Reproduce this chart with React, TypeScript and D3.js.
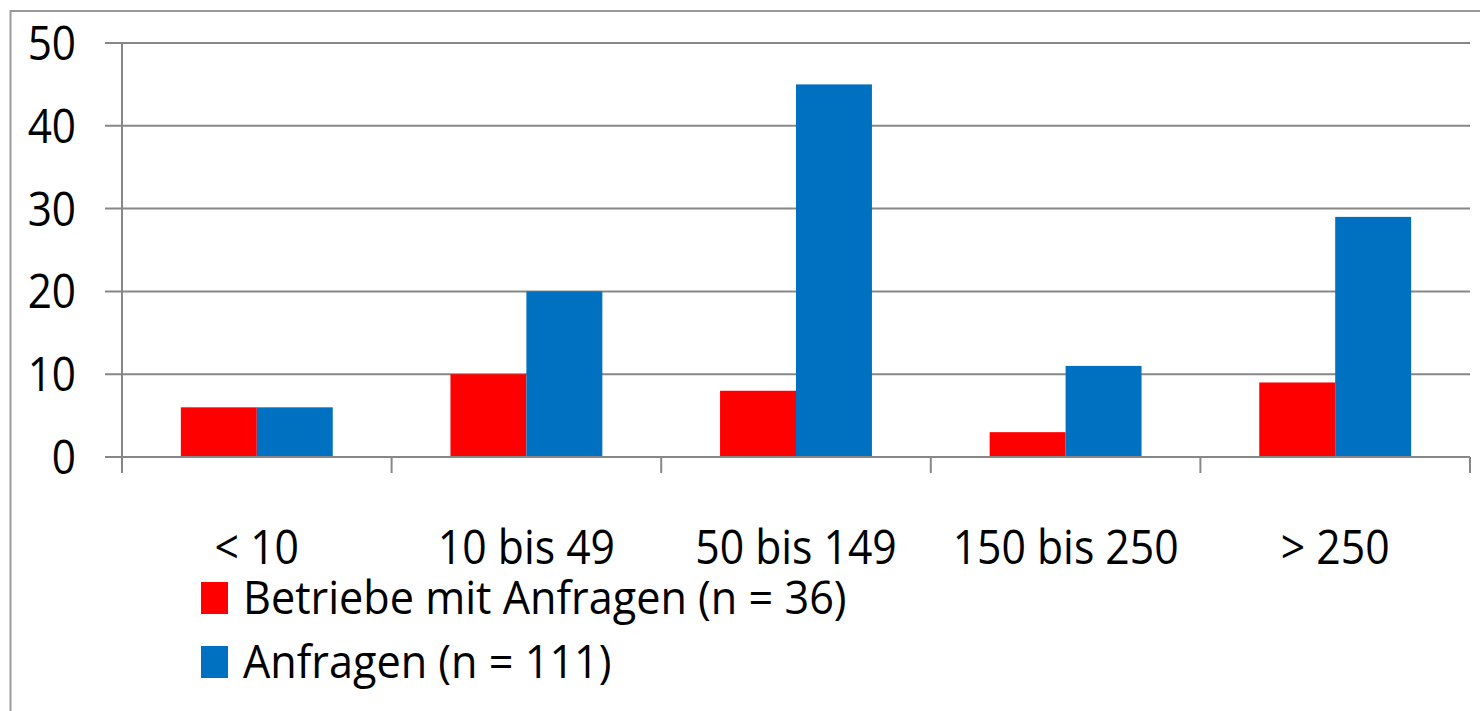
import React from "react";
import * as d3 from "d3";

const categories = ["< 10", "10 bis 49", "50 bis 149", "150 bis 250", "> 250"];
const seriesNames = ["Betriebe mit Anfragen (n = 36)", "Anfragen (n = 111)"];
const betriebe = [6, 10, 8, 3, 9];
const anfragen = [6, 20, 45, 11, 29];
const yTicks = [0, 10, 20, 30, 40, 50];
const colors = ["#FF0000", "#0070C0"];

const W = 1480;
const H = 711;
const plot = { left: 122, right: 1470, top: 43, bottom: 457 };
const FONT = "'Open Sans', 'Noto Sans', sans-serif";

export default function App() {
  const x = d3.scaleBand<string>().domain(categories).range([plot.left, plot.right]).padding(0);
  const inner = d3
    .scaleBand<number>()
    .domain([0, 1])
    .range([0, x.bandwidth()])
    .paddingInner(0)
    .paddingOuter(0.775);
  const y = d3.scaleLinear().domain([0, 50]).range([plot.bottom, plot.top]);
  const series = [betriebe, anfragen];
  const grid = "#878787";
  const boundaries = categories.map((c) => x(c) as number).concat([plot.right]);

  return (
    <div style={{ position: "absolute", left: 0, top: 0 }}>
      <svg width={W} height={H} style={{ display: "block", background: "#fff" }}>
        {/* chart frame */}
        <rect x={10.5} y={11} width={W + 20} height={H + 20} fill="none" stroke="#9a9a9a" strokeWidth={2} />

        {/* horizontal gridlines with left tick stubs */}
        {yTicks.map((t) => (
          <line key={"g" + t} x1={105} x2={plot.right} y1={y(t)} y2={y(t)} stroke={grid} strokeWidth={2} />
        ))}

        {/* bars */}
        {series.map((vals, si) =>
          vals.map((v, ci) => (
            <rect
              key={`b${si}-${ci}`}
              x={(x(categories[ci]) as number) + (inner(si) as number)}
              y={y(v)}
              width={inner.bandwidth()}
              height={y(0) - y(v)}
              fill={colors[si]}
            />
          ))
        )}

        {/* axes */}
        <line x1={plot.left} x2={plot.left} y1={plot.top} y2={473} stroke={grid} strokeWidth={2} />
        <line x1={plot.left} x2={plot.right} y1={y(0)} y2={y(0)} stroke={grid} strokeWidth={2} />
        {boundaries.map((bx, i) => (
          <line key={"t" + i} x1={bx} x2={bx} y1={y(0)} y2={473} stroke={grid} strokeWidth={2} />
        ))}

        {/* y tick labels */}
        {yTicks.map((t) => (
          <text
            key={"yl" + t}
            transform={`translate(76,${y(t) + 17}) scale(0.9,1)`}
            textAnchor="end"
            fontFamily={FONT}
            fontSize={47}
            fill="#000"
          >
            {t}
          </text>
        ))}

        {/* category labels */}
        {categories.map((c) => (
          <text
            key={"xl" + c}
            transform={`translate(${(x(c) as number) + x.bandwidth() / 2},564) scale(0.89,1)`}
            textAnchor="middle"
            fontFamily={FONT}
            fontSize={48}
            fill="#000"
          >
            {c}
          </text>
        ))}

        {/* legend */}
        {seriesNames.map((name, i) => (
          <g key={"lg" + i} transform={`translate(201,${582 + i * 64})`}>
            <rect x={0} y={0} width={27} height={32} fill={colors[i]} />
            <text
              transform={`translate(42,32) scale(0.96,1)`}
              fontFamily={FONT}
              fontSize={45}
              fill="#000"
            >
              {name}
            </text>
          </g>
        ))}
      </svg>
    </div>
  );
}
